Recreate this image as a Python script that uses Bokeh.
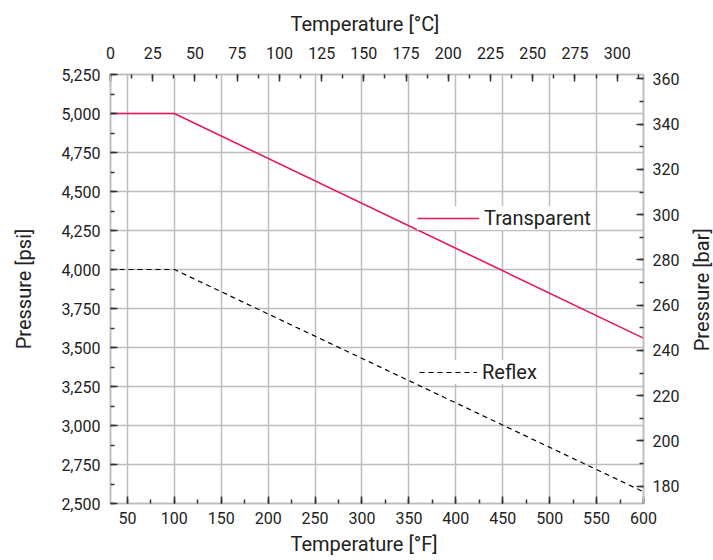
from math import pi
from bokeh.plotting import figure
from bokeh.layouts import row
from bokeh.models import (Range1d, LinearAxis, SingleIntervalTicker, NumeralTickFormatter,
                          Legend, LegendItem, Title)
from bokeh.core.properties import value
from bokeh.embed import file_html
from bokeh.resources import INLINE

# ---- data ----
temp_f = [32, 100, 600]
transparent_psi = [5000, 5000, 3560]
reflex_psi = [4000, 4000, 2575]
series_names = ["Transparent", "Reflex"]
right_title = "Pressure [bar]"

PSI_PER_BAR = 14.5038
f_min, f_max = 32, 600
psi_min, psi_max = 2500, 5250

FONT = "Roboto"
TXT = "#222222"
GRID = "#bdbdbd"
TICK = "#333333"
RED = "#e8175d"

W_MAIN, W_SIDE, H = 691, 22, 560

p = figure(width=W_MAIN, height=H,
           x_range=Range1d(f_min, f_max), y_range=Range1d(psi_min, psi_max),
           output_backend="svg", toolbar_location=None,
           min_border_left=110, min_border_right=48, min_border_top=74, min_border_bottom=57)
p.background_fill_color = "white"
p.border_fill_color = "white"
p.outline_line_color = GRID
p.outline_line_width = 1.5

p.extra_x_ranges = {"C": Range1d((f_min - 32) * 5 / 9, (f_max - 32) * 5 / 9)}
p.extra_y_ranges = {"bar": Range1d(psi_min / PSI_PER_BAR, psi_max / PSI_PER_BAR)}

bottom = p.below[0]
left = p.left[0]
bottom.ticker = SingleIntervalTicker(interval=50, num_minor_ticks=2)
left.ticker = SingleIntervalTicker(interval=250, num_minor_ticks=2)
left.formatter = NumeralTickFormatter(format="0,0")

top = LinearAxis(x_range_name="C", ticker=SingleIntervalTicker(interval=25, num_minor_ticks=2))
p.add_layout(top, "above")
right = LinearAxis(y_range_name="bar", ticker=SingleIntervalTicker(interval=20, num_minor_ticks=2))
p.add_layout(right, "right")

for ax in [bottom, left, top, right]:
    ax.axis_line_color = GRID
    ax.axis_line_width = 1.5
    ax.major_tick_in = 7
    ax.major_tick_out = 0
    ax.minor_tick_in = 4
    ax.minor_tick_out = 0
    ax.major_tick_line_color = TICK
    ax.minor_tick_line_color = TICK
    ax.major_tick_line_width = 1.5
    ax.minor_tick_line_width = 1.5
    ax.major_label_text_font = FONT
    ax.major_label_text_font_size = "16px"
    ax.major_label_text_color = TXT
    ax.axis_label_text_font = FONT
    ax.axis_label_text_font_size = "20px"
    ax.axis_label_text_font_style = "normal"
    ax.axis_label_text_color = TXT

bottom.major_label_standoff = 8
top.major_label_standoff = 16
left.major_label_standoff = 10
right.major_label_standoff = 9

left.axis_label = "Pressure [psi]"
left.axis_label_standoff = 22

for g in p.grid:
    g.grid_line_color = GRID
    g.grid_line_width = 1.5

r_t = p.line(temp_f, transparent_psi, line_color=RED, line_width=1.6)
r_r = p.line(temp_f, reflex_psi, line_color="black", line_width=1.2, line_dash="5 4")

def make_legend(name, rend, loc, gw):
    return Legend(items=[LegendItem(label=name, renderers=[rend])], location=loc,
                  glyph_width=gw, glyph_height=22, label_height=22, label_standoff=5,
                  padding=0, margin=0, spacing=0, border_line_alpha=0,
                  background_fill_color="white", background_fill_alpha=1.0,
                  label_text_font=FONT, label_text_font_size="20px", label_text_color=TXT)

p.add_layout(make_legend(series_names[0], r_t, (307, 273), 62))
p.add_layout(make_legend(series_names[1], r_r, (309, 119), 58))

def title(text, standoff):
    return Title(text=text, align="left", offset=180, standoff=standoff,
                 text_font=FONT, text_font_size="20px", text_font_style="normal",
                 text_color=TXT)

p.add_layout(title("Temperature [°C]", 15), "above")
p.add_layout(title("Temperature [°F]", 7), "below")

# narrow side panel carrying the right-hand axis title (reads bottom-to-top)
side = figure(width=W_SIDE, height=H, x_range=Range1d(0, W_SIDE), y_range=Range1d(0, H),
              output_backend="svg", toolbar_location=None, x_axis_type=None, y_axis_type=None,
              min_border=0, outline_line_color=None)
side.grid.visible = False
side.background_fill_color = "white"
side.border_fill_color = "white"
side.text(x=[10.5], y=[H - 281], text=[right_title], angle=pi / 2,
          text_align="center", text_baseline="middle",
          text_font=value(FONT), text_font_size="20px", text_color=TXT)

layout = row(p, side, spacing=0)
open("out.html", "w").write(file_html(layout, INLINE))
